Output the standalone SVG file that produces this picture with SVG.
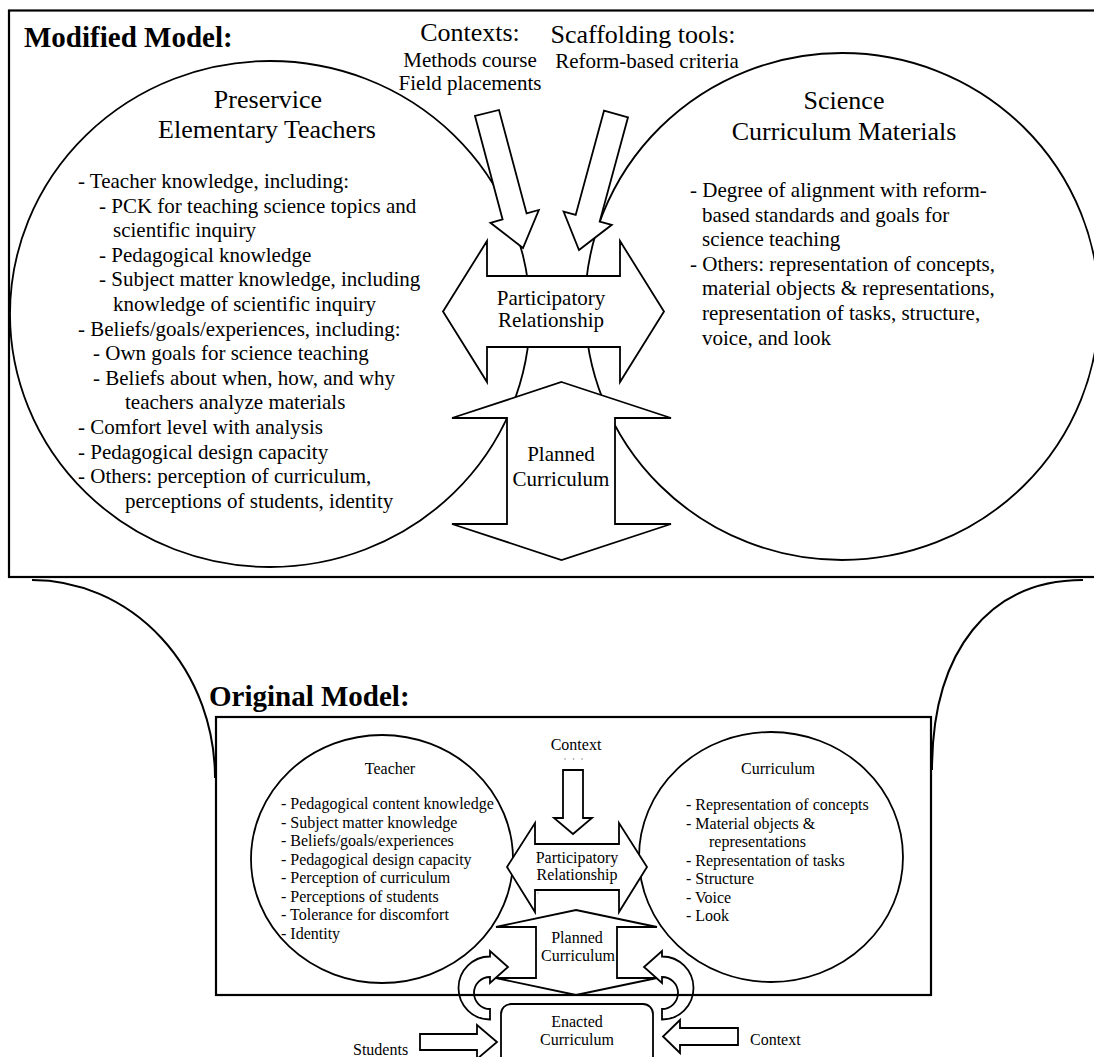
<svg xmlns="http://www.w3.org/2000/svg" width="1094" height="1057" viewBox="0 0 1094 1057" font-family="'Liberation Serif', 'DejaVu Serif', serif">
  <style>
    text { font-family: 'Liberation Serif', 'DejaVu Serif', serif; fill: #000; }
    .title { font-size: 29px; font-weight: bold; }
    .hd { font-size: 26px; }
    .lbl { font-size: 21px; }
    .sm { font-size: 16px; }
    .c { text-anchor: middle; }
    .frame { fill: none; stroke: #000; stroke-width: 2.2; }
    .shape { fill: #fff; stroke: #000; stroke-width: 1.8; stroke-linejoin: miter; }
    .line { fill: none; stroke: #000; stroke-width: 2; }
  </style>

  <rect x="0" y="0" width="1094" height="1057" fill="#fff"/>

  <!-- ===== Modified model ===== -->
  <g id="modified-frame">
    <rect class="frame" x="9" y="10.5" width="1100" height="566.5"/>
    <text class="title" x="24" y="47">Modified Model:</text>
  </g>

  <g id="preservice-teachers">
    <ellipse class="shape" cx="270" cy="314" rx="260" ry="253"/>
    <text class="hd c" x="268" y="108">Preservice</text>
    <text class="hd c" x="267" y="138">Elementary Teachers</text>
    <text class="lbl" x="78" y="188">- Teacher knowledge, including:</text>
    <text class="lbl" x="99" y="212.6">- PCK for teaching science topics and</text>
    <text class="lbl" x="113" y="237.2">scientific inquiry</text>
    <text class="lbl" x="99" y="261.8">- Pedagogical knowledge</text>
    <text class="lbl" x="99" y="286.4">- Subject matter knowledge, including</text>
    <text class="lbl" x="113" y="311">knowledge of scientific inquiry</text>
    <text class="lbl" x="78" y="335.6">- Beliefs/goals/experiences, including:</text>
    <text class="lbl" x="93" y="360.2">- Own goals for science teaching</text>
    <text class="lbl" x="93" y="384.8">- Beliefs about when, how, and why</text>
    <text class="lbl" x="125" y="409.4">teachers analyze materials</text>
    <text class="lbl" x="78" y="434">- Comfort level with analysis</text>
    <text class="lbl" x="78" y="458.6">- Pedagogical design capacity</text>
    <text class="lbl" x="78" y="483.2">- Others: perception of curriculum,</text>
    <text class="lbl" x="125" y="507.8">perceptions of students, identity</text>
  </g>

  <g id="curriculum-materials">
    <ellipse class="shape" cx="842" cy="306.5" rx="257" ry="253.5"/>
    <text class="hd c" x="844" y="109">Science</text>
    <text class="hd c" x="844" y="140">Curriculum Materials</text>
    <text class="lbl" x="690" y="197">- Degree of alignment with reform-</text>
    <text class="lbl" x="702" y="221.6">based standards and goals for</text>
    <text class="lbl" x="702" y="246.2">science teaching</text>
    <text class="lbl" x="690" y="270.8">- Others: representation of concepts,</text>
    <text class="lbl" x="702" y="295.4">material objects &amp; representations,</text>
    <text class="lbl" x="702" y="320">representation of tasks, structure,</text>
    <text class="lbl" x="702" y="344.6">voice, and look</text>
  </g>

  <g id="contexts-label">
    <text class="hd c" x="470" y="41">Contexts:</text>
    <text class="lbl c" x="470" y="67">Methods course</text>
    <text class="lbl c" x="470" y="90">Field placements</text>
  </g>

  <g id="scaffolding-label">
    <text class="hd c" x="643" y="43">Scaffolding tools:</text>
    <text class="lbl c" x="647" y="68">Reform-based criteria</text>
  </g>

  <g id="modified-connectors">
    <!-- block arrows from the two labels -->
    <path class="shape" d="M475,116 L502.6,219.4 L490.4,222.8 L523,248 L538.8,210 L526.6,213.4 L499,110 Z"/>
    <path class="shape" d="M604,110.7 L575.7,214.9 L563.6,211.6 L579,250 L611.8,224.8 L599.7,221.5 L628,117.3 Z"/>
  </g>

  <g id="participatory-relationship">
    <path class="shape" d="M443,311.5 L487,241 L487,276 L620,276 L620,241 L664,311.5 L620,382 L620,347 L487,347 L487,382 Z"/>
    <text class="lbl c" x="551" y="305">Participatory</text>
    <text class="lbl c" x="551" y="327">Relationship</text>
  </g>

  <g id="planned-curriculum">
    <path class="shape" d="M561.5,382 L671,418 L615,418 L615,524 L671,524 L561.5,560 L452,524 L507,524 L507,418 L452,418 Z"/>
    <text class="lbl c" x="561" y="461">Planned</text>
    <text class="lbl c" x="561" y="486">Curriculum</text>
  </g>

  <!-- ===== links between the two models ===== -->
  <g id="zoom-links">
    <path class="line" d="M32,580 A183,198 0 0 1 215,778"/>
    <path class="line" d="M1083,580 C990,580 932,650 932,770"/>
  </g>

  <!-- ===== Original model ===== -->
  <g id="teacher">
    <ellipse class="shape" cx="382" cy="859" rx="131" ry="124"/>
    <text class="sm c" x="390" y="774">Teacher</text>
    <text class="sm" x="281" y="809">- Pedagogical content knowledge</text>
    <text class="sm" x="281" y="827.5">- Subject matter knowledge</text>
    <text class="sm" x="281" y="846">- Beliefs/goals/experiences</text>
    <text class="sm" x="281" y="864.5">- Pedagogical design capacity</text>
    <text class="sm" x="281" y="883">- Perception of curriculum</text>
    <text class="sm" x="281" y="901.5">- Perceptions of students</text>
    <text class="sm" x="281" y="920">- Tolerance for discomfort</text>
    <text class="sm" x="281" y="938.5">- Identity</text>
  </g>

  <g id="curriculum">
    <ellipse class="shape" cx="771" cy="857" rx="132" ry="125"/>
    <text class="sm c" x="778" y="774">Curriculum</text>
    <text class="sm" x="686" y="810">- Representation of concepts</text>
    <text class="sm" x="686" y="828.5">- Material objects &amp;</text>
    <text class="sm" x="709" y="847">representations</text>
    <text class="sm" x="686" y="865.5">- Representation of tasks</text>
    <text class="sm" x="686" y="884">- Structure</text>
    <text class="sm" x="686" y="902.5">- Voice</text>
    <text class="sm" x="686" y="921">- Look</text>
  </g>

  <g id="context-top">
    <text class="sm c" x="576" y="750">Context</text>
    <g fill="#777">
      <circle cx="565" cy="759" r="0.7"/>
      <circle cx="573.5" cy="759" r="0.7"/>
      <circle cx="582" cy="759" r="0.7"/>
    </g>
  </g>

  <g id="original-connectors">
    <path class="shape" d="M563,770 L583,770 L583,818 L592,818 L573,834 L554,818 L563,818 Z"/>
    <!-- curved feedback arrows from enacted to planned curriculum -->
    <path class="shape" d="M490,1019.5 A31.5,31.5 0 0 1 458.5,988 A31.5,31.5 0 0 1 490,956.5 L490,951 L508,967 L490,983 L490,977 A16,16 0 0 0 474,993 A16,16 0 0 0 490,1009 Z"/>
    <path class="shape" d="M662,1019.5 A31.5,31.5 0 0 0 693.5,988 A31.5,31.5 0 0 0 662,956.5 L662,951 L644,967 L662,983 L662,977 A16,16 0 0 1 678,993 A16,16 0 0 1 662,1009 Z"/>
    <!-- side inputs to the enacted curriculum -->
    <path class="shape" d="M420,1034 L477,1034 L477,1025 L497,1042 L477,1059 L477,1050 L420,1050 Z"/>
    <path class="shape" d="M738,1028 L680,1028 L680,1020 L663,1036.5 L680,1053 L680,1045 L738,1045 Z"/>
  </g>

  <g id="original-participatory">
    <path class="shape" d="M507,867 L535,823 L535,844 L619,844 L619,823 L647,867 L619,912 L619,890 L535,890 L535,912 Z"/>
    <text class="sm c" x="577" y="863">Participatory</text>
    <text class="sm c" x="577" y="880">Relationship</text>
    <circle cx="538" cy="893" r="0.6" fill="#777"/>
  </g>

  <g id="original-planned">
    <path class="shape" d="M576,910 L657,927 L617,927 L617,978 L657,978 L576,995 L496,978 L536,978 L536,927 L496,927 Z"/>
    <text class="sm c" x="577" y="943">Planned</text>
    <text class="sm c" x="578" y="961">Curriculum</text>
  </g>

  <!-- frame of the original model sits over the curved arrows -->
  <g id="original-frame">
    <text class="title" x="209" y="706">Original Model:</text>
    <rect class="frame" x="216" y="717" width="715" height="278"/>
  </g>

  <g id="enacted-curriculum">
    <rect class="shape" x="501" y="1004" width="152" height="75" rx="10" ry="10"/>
    <text class="sm c" x="577" y="1027">Enacted</text>
    <text class="sm c" x="577" y="1045">Curriculum</text>
  </g>

  <g id="students">
    <text class="sm" x="353" y="1055">Students</text>
  </g>

  <g id="context-side">
    <text class="sm" x="750" y="1045">Context</text>
  </g>
</svg>
